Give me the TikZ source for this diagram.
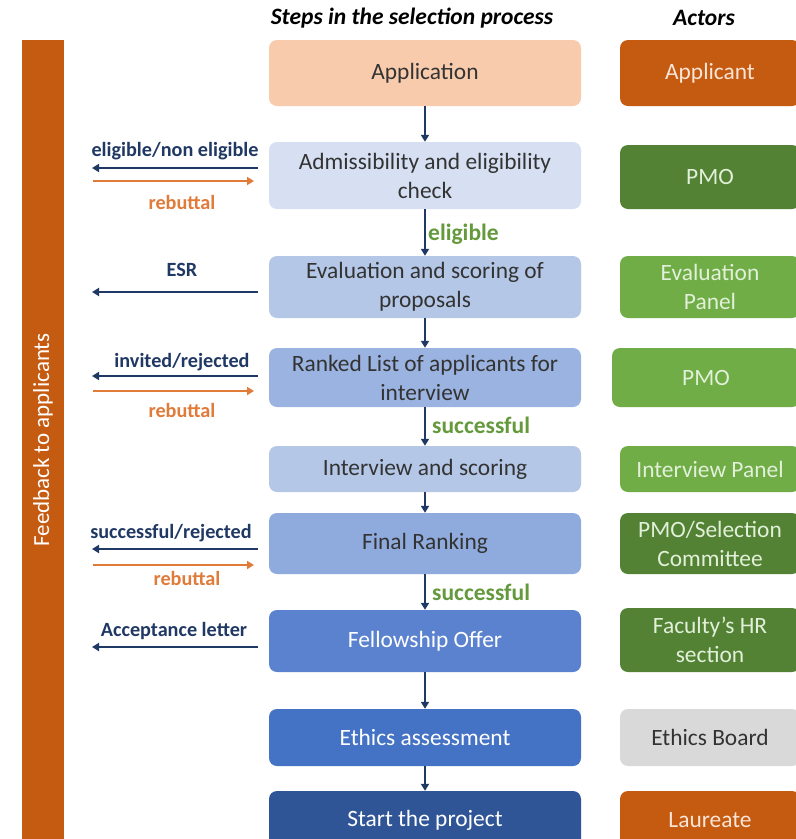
\documentclass[tikz,border=0pt]{standalone}
\usepackage{fontspec}
\setmainfont{Carlito}
\usetikzlibrary{arrows.meta}
\definecolor{navy}{HTML}{203864}
\definecolor{orng}{HTML}{E07B39}
\definecolor{darkorange}{HTML}{C55A11}
\definecolor{txtgray}{HTML}{333333}
\definecolor{gtext}{HTML}{64993C}
\definecolor{cA}{HTML}{F8CBAD}
\definecolor{cB}{HTML}{D6E0F2}
\definecolor{cC}{HTML}{B4C7E7}
\definecolor{cD}{HTML}{9AB3E0}
\definecolor{cE}{HTML}{B4C7E7}
\definecolor{cF}{HTML}{8FAADC}
\definecolor{cG}{HTML}{5B82CF}
\definecolor{cH}{HTML}{4472C4}
\definecolor{cI}{HTML}{2F5597}
\definecolor{dgreen}{HTML}{548235}
\definecolor{lgreen}{HTML}{70AD47}
\definecolor{lgtext}{HTML}{E2F0D9}
\definecolor{peach}{HTML}{FBE5D6}
\definecolor{lgray}{HTML}{D9D9D9}
\tikzset{
  stepbox/.style={rounded corners=8pt, minimum width=312pt, align=center, text=txtgray, inner sep=0pt,
    font=\fontsize{23.4}{29}\selectfont},
  actorbox/.style={rounded corners=8pt, minimum width=180pt, align=center, text=lgtext, inner sep=0pt,
    font=\fontsize{23.4}{29}\selectfont},
  flow/.style={draw=navy, line width=1.8pt, -{Triangle[length=7pt,width=8pt]}},
  backarrow/.style={draw=navy, line width=2pt, -{Triangle[length=7pt,width=8pt]}},
  rebarrow/.style={draw=orng, line width=2pt, -{Triangle[length=7pt,width=8pt]}},
  navylabel/.style={text=navy, font=\bfseries\fontsize{20.2}{24}\selectfont, inner sep=0pt},
  reblabel/.style={text=orng, font=\bfseries\fontsize{20.2}{24}\selectfont, inner sep=0pt},
  glabel/.style={text=gtext, font=\bfseries\fontsize{23.5}{26}\selectfont, inner sep=0pt, anchor=west},
  header/.style={text=black, font=\bfseries\itshape\fontsize{23.5}{26}\selectfont, inner sep=0pt}
}
\begin{document}
\begin{tikzpicture}[x=1pt,y=-1pt]
\useasboundingbox[fill=white] (0,0) rectangle (796,839);

% headers
\node[header] (h1) at (412,18) {Steps in the selection process};
\node[header] (h2) at (704,18) {Actors};

% feedback bar
\fill[darkorange] (22,40) rectangle (64,860);
\node[rotate=90, text=white, font=\fontsize{23}{26}\selectfont, inner sep=0pt] (fb) at (43,440) {Feedback to applicants};

% steps
\node[stepbox, fill=cA, minimum height=66pt] (s1) at (425,73) {Application};
\node[stepbox, fill=cB, minimum height=67pt] (s2) at (425,175.5) {Admissibility and eligibility\\check};
\node[stepbox, fill=cC, minimum height=62pt] (s3) at (425,287) {Evaluation and scoring of\\proposals};
\node[stepbox, fill=cD, minimum height=59pt] (s4) at (425,377.5) {Ranked List of applicants for\\interview};
\node[stepbox, fill=cE, minimum height=46pt] (s5) at (425,469) {Interview and scoring};
\node[stepbox, fill=cF, minimum height=61pt] (s6) at (425,543.5) {Final Ranking};
\node[stepbox, fill=cG, minimum height=62pt, text=white] (s7) at (425,641) {Fellowship Offer};
\node[stepbox, fill=cH, minimum height=57pt, text=white] (s8) at (425,737.5) {Ethics assessment};
\node[stepbox, fill=cI, minimum height=58pt, text=white] (s9) at (425,820) {Start the project};

% actors
\node[actorbox, fill=darkorange, minimum height=66pt, text=peach] (a1) at (710,73) {Applicant};
\node[actorbox, fill=dgreen, minimum height=64pt] (a2) at (710,177) {PMO};
\node[actorbox, fill=lgreen, minimum height=62pt] (a3) at (710,287) {Evaluation\\Panel};
\node[actorbox, fill=lgreen, minimum height=59pt, minimum width=188pt] (a4) at (706,377.5) {PMO};
\node[actorbox, fill=lgreen, minimum height=46pt] (a5) at (710,469) {Interview Panel};
\node[actorbox, fill=dgreen, minimum height=61pt] (a6) at (710,543.5) {PMO/Selection\\Committee};
\node[actorbox, fill=dgreen, minimum height=64pt] (a7) at (710,640) {Faculty’s HR\\section};
\node[actorbox, fill=lgray, minimum height=57pt, text=txtgray] (a8) at (710,737.5) {Ethics Board};
\node[actorbox, fill=darkorange, minimum height=58pt, text=peach] (a9) at (710,820) {Laureate};

% flow arrows
\draw[flow] (s1) -- (s2);
\draw[flow] (s2) -- (s3);
\draw[flow] (s3) -- (s4);
\draw[flow] (s4) -- (s5);
\draw[flow] (s5) -- (s6);
\draw[flow] (s6) -- (s7);
\draw[flow] (s7) -- (s8);
\draw[flow] (s8) -- (s9);
\node[glabel] (l1) at (428,234) {eligible};
\node[glabel] (l2) at (432,425) {successful};
\node[glabel] (l3) at (432,592) {successful};

% feedback arrows
\coordinate (b2s) at (258,168); \coordinate (b2e) at (92,168);
\coordinate (r2s) at (93,181);  \coordinate (r2e) at (254,181);
\draw[backarrow] (b2s) -- (b2e);
\draw[rebarrow] (r2s) -- (r2e);
\node[navylabel] (t2) at (175,151) {eligible/non eligible};
\node[reblabel] (u2) at (182,202) {rebuttal};

\coordinate (b3s) at (258,292); \coordinate (b3e) at (92,292);
\draw[backarrow] (b3s) -- (b3e);
\node[navylabel] (t3) at (182,270) {ESR};

\coordinate (b4s) at (258,376); \coordinate (b4e) at (92,376);
\coordinate (r4s) at (93,391);  \coordinate (r4e) at (254,391);
\draw[backarrow] (b4s) -- (b4e);
\draw[rebarrow] (r4s) -- (r4e);
\node[navylabel] (t4) at (182,362) {invited/rejected};
\node[reblabel] (u4) at (182,410) {rebuttal};

\coordinate (b6s) at (258,549); \coordinate (b6e) at (92,549);
\coordinate (r6s) at (93,565);  \coordinate (r6e) at (254,565);
\draw[backarrow] (b6s) -- (b6e);
\draw[rebarrow] (r6s) -- (r6e);
\node[navylabel] (t6) at (171,533) {successful/rejected};
\node[reblabel] (u6) at (187,578) {rebuttal};

\coordinate (b7s) at (258,647); \coordinate (b7e) at (92,647);
\draw[backarrow] (b7s) -- (b7e);
\node[navylabel] (t7) at (174,631) {Acceptance letter};
\end{tikzpicture}
\end{document}
